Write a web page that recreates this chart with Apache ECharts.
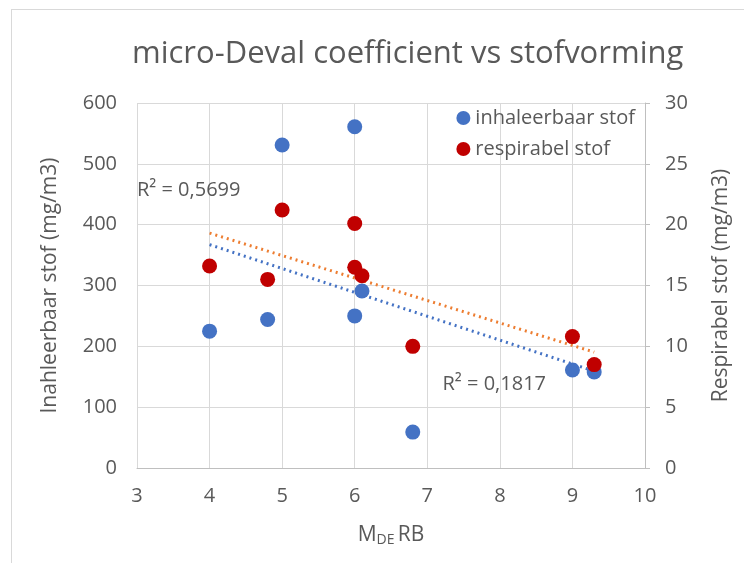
<!DOCTYPE html>
<html>
<head>
<meta charset="utf-8">
<script src="https://cdn.jsdelivr.net/npm/echarts@6/dist/echarts.min.js"></script>
<style>
  html, body { margin: 0; padding: 0; background: #fff; }
  #frame { position: absolute; left: 11px; top: 9px; width: 800px; height: 600px; border: 1px solid #d9d9d9; }
  #chart { position: absolute; left: 0; top: 0; width: 744px; height: 563px; }
</style>
</head>
<body>
<div id="frame"></div>
<div id="chart"></div>
<script>
  // MDE RB waarden en gemeten stof
  const mdeInhaleerbaar = [4, 4.8, 5, 6, 6, 6.1, 6.8, 9, 9.3];
  const inhaleerbaar = [225, 244, 531, 561, 250, 291, 59, 161, 158];
  const mdeRespirabel = [4, 4.8, 5, 6, 6, 6.1, 6.8, 9, 9.3];
  const respirabel = [16.6, 15.5, 21.2, 20.1, 16.5, 15.8, 10.0, 10.8, 8.5];
  const r2Labels = ["R² = 0,5699", "R² = 0,1817"];

  const font = "'Open Sans', sans-serif";
  const grey = "#595959";

  // lineaire trendlijn (kleinste kwadraten), zoals Excel
  function trend(xs, ys) {
    const n = xs.length;
    const mx = xs.reduce((a, b) => a + b, 0) / n;
    const my = ys.reduce((a, b) => a + b, 0) / n;
    let sxy = 0, sxx = 0;
    for (let i = 0; i < n; i++) {
      sxy += (xs[i] - mx) * (ys[i] - my);
      sxx += (xs[i] - mx) * (xs[i] - mx);
    }
    const b = sxy / sxx;
    const x0 = Math.min(...xs), x1 = Math.max(...xs);
    return [[x0, my + b * (x0 - mx)], [x1, my + b * (x1 - mx)]];
  }

  const pair = (xs, ys) => xs.map((x, i) => [x, ys[i]]);

  const chart = echarts.init(document.getElementById("chart"), null, { renderer: "canvas" });

  const option = {
    animation: false,
    title: {
      text: "micro-Deval coefficient vs stofvorming",
      left: 127,
      top: 34,
      textStyle: { fontFamily: font, fontSize: 31, fontWeight: "normal", color: grey },
    },
    legend: {
      orient: "vertical",
      right: 104,
      top: 103,
      icon: "circle",
      itemWidth: 14,
      itemHeight: 14,
      itemGap: 11,
      textStyle: { fontFamily: font, fontSize: 20, color: grey },
      data: ["inhaleerbaar stof", "respirabel stof"],
    },
    grid: { left: 137, right: 99, top: 103, bottom: 95 },
    xAxis: {
      type: "value",
      min: 3,
      max: 10,
      interval: 1,
      name: "{m|M}{s|DE} {m|RB}",
      nameLocation: "middle",
      nameGap: 55,
      nameTextStyle: {
        rich: {
          m: { fontFamily: font, fontSize: 21, color: grey },
          s: { fontFamily: font, fontSize: 14, color: grey, verticalAlign: "bottom", padding: [10, 0, 0, 0] },
        },
      },
      axisLine: { lineStyle: { color: "#bfbfbf" } },
      axisTick: { show: false },
      axisLabel: { fontFamily: font, fontSize: 20, color: grey, margin: 18 },
      splitLine: { show: true, lineStyle: { color: "#d9d9d9" } },
    },
    yAxis: [
      {
        type: "value",
        min: 0,
        max: 600,
        interval: 100,
        name: "Inahleerbaar stof (mg/m3)",
        nameLocation: "middle",
        nameGap: 76,
        nameTextStyle: { fontFamily: font, fontSize: 21, color: grey },
        axisLine: { show: false },
        axisTick: { show: false },
        axisLabel: { fontFamily: font, fontSize: 20, color: grey, margin: 20 },
        splitLine: { show: true, lineStyle: { color: "#d9d9d9" } },
      },
      {
        type: "value",
        min: 0,
        max: 30,
        interval: 5,
        position: "right",
        name: "Respirabel stof (mg/m3)",
        nameLocation: "middle",
        nameGap: 66,
        nameRotate: 90,
        nameTextStyle: { fontFamily: font, fontSize: 21, color: grey },
        axisLine: { show: true, lineStyle: { color: "#bfbfbf" } },
        axisTick: { show: true, length: 5, lineStyle: { color: "#bfbfbf" } },
        axisLabel: { fontFamily: font, fontSize: 20, color: grey, margin: 20 },
        splitLine: { show: false },
      },
    ],
    series: [
      {
        name: "trend inhaleerbaar",
        type: "line",
        yAxisIndex: 0,
        data: trend(mdeInhaleerbaar, inhaleerbaar),
        showSymbol: false,
        lineStyle: { color: "#4472c4", width: 3, type: [2, 4] },
        z: 1,
      },
      {
        name: "trend respirabel",
        type: "line",
        yAxisIndex: 1,
        data: trend(mdeRespirabel, respirabel),
        showSymbol: false,
        lineStyle: { color: "#ed7d31", width: 3, type: [2, 4] },
        z: 1,
      },
      {
        name: "inhaleerbaar stof",
        type: "scatter",
        yAxisIndex: 0,
        data: pair(mdeInhaleerbaar, inhaleerbaar),
        symbolSize: 15,
        itemStyle: { color: "#4472c4", opacity: 1 },
        z: 3,
      },
      {
        name: "respirabel stof",
        type: "scatter",
        yAxisIndex: 1,
        data: pair(mdeRespirabel, respirabel),
        symbolSize: 15,
        itemStyle: { color: "#c00000", opacity: 1 },
        z: 3,
      },
    ],
  };

  chart.setOption(option);

  // R² labels van de trendlijnen
  const p1 = chart.convertToPixel({ xAxisIndex: 0, yAxisIndex: 0 }, [3, 452]);
  const p2 = chart.convertToPixel({ xAxisIndex: 0, yAxisIndex: 0 }, [7.21, 132]);
  chart.setOption({
    graphic: [
      { type: "text", left: p1[0], top: p1[1] - 13, style: { text: r2Labels[0], font: "20px " + font, fill: grey } },
      { type: "text", left: p2[0], top: p2[1] - 13, style: { text: r2Labels[1], font: "20px " + font, fill: grey } },
    ],
  });
</script>
</body>
</html>
